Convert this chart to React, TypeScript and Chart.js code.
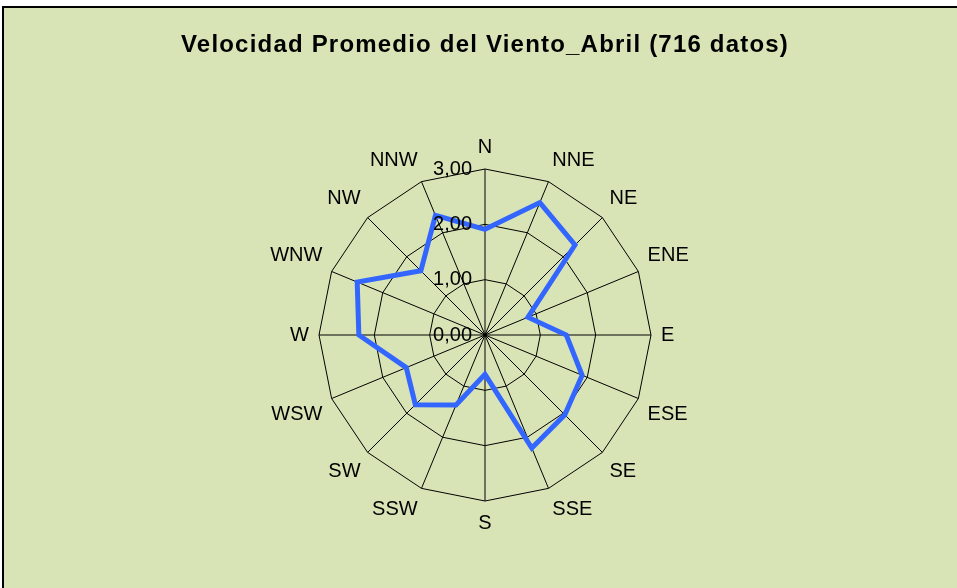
import React, { useEffect, useRef } from "react";
import { Chart, registerables } from "chart.js";

Chart.register(...registerables);

const TITLE = "Velocidad Promedio del Viento_Abril (716 datos)";
const directions = ["N", "NNE", "NE", "ENE", "E", "ESE", "SE", "SSE", "S", "SSW", "SW", "WSW", "W", "WNW", "NW", "NNW"];
const speeds = [1.91, 2.59, 2.3, 0.84, 1.47, 1.9, 2.04, 2.21, 0.71, 1.37, 1.78, 1.54, 2.28, 2.5, 1.64, 2.34];
const tickValues = [0, 1, 2, 3];
const tickLabels = ["0,00", "1,00", "2,00", "3,00"];

const BG = "#D8E4B6";
const FONT = "'Liberation Sans', Arial, sans-serif";

const tickPlugin = {
  id: "leftTicks",
  afterDatasetsDraw(chart: any) {
    const scale = chart.scales.r;
    const ctx = chart.ctx;
    ctx.save();
    ctx.font = "20px " + FONT;
    ctx.fillStyle = "#000";
    ctx.textAlign = "right";
    ctx.textBaseline = "middle";
    tickValues.forEach((v, i) => {
      const d = scale.getDistanceFromCenterForValue(v);
      ctx.fillText(tickLabels[i], scale.xCenter - 13, scale.yCenter - d);
    });
    ctx.restore();
  },
};

const titlePlugin = {
  id: "spacedTitle",
  afterDraw(chart: any) {
    const ctx = chart.ctx;
    ctx.save();
    ctx.font = "bold 24px " + FONT;
    (ctx as any).letterSpacing = "1.2px";
    ctx.fillStyle = "#000";
    ctx.textAlign = "center";
    ctx.textBaseline = "middle";
    ctx.fillText(TITLE, 481, 37);
    ctx.restore();
  },
};

export default function App() {
  const ref = useRef<HTMLCanvasElement | null>(null);
  useEffect(() => {
    document.body.style.margin = "0";
    const chart = new Chart(ref.current as HTMLCanvasElement, {
      type: "radar",
      data: {
        labels: directions,
        datasets: [
          {
            data: speeds,
            borderColor: "#3366FF",
            backgroundColor: "rgba(0,0,0,0)",
            borderWidth: 5,
            pointRadius: 0,
            fill: false,
            tension: 0,
          },
        ],
      },
      options: {
        animation: false,
        responsive: false,
        maintainAspectRatio: false,
        layout: { padding: { left: 9, right: 0, top: 127, bottom: 52 } },
        plugins: {
          legend: { display: false },
          tooltip: { enabled: false },
          title: { display: false },
        },
        scales: {
          r: {
            min: 0,
            max: 3,
            ticks: { stepSize: 1, display: false },
            grid: { color: "#000", lineWidth: 1 },
            angleLines: { color: "#000", lineWidth: 1 },
            pointLabels: {
              color: "#000",
              padding: 10,
              font: { family: FONT, size: 20 },
            },
          },
        },
      },
      plugins: [tickPlugin, titlePlugin],
    });
    return () => chart.destroy();
  }, []);
  return (
    <div style={{ position: "absolute", left: 0, top: 0, width: 957, height: 588, background: "#fff" }}>
      <div
        style={{
          position: "absolute",
          left: 2,
          top: 6,
          width: 955,
          height: 582,
          background: BG,
          borderTop: "2px solid #000",
          borderLeft: "2px solid #000",
          boxSizing: "border-box",
        }}
      >
        <canvas ref={ref} width={953} height={580} style={{ display: "block" }} />
      </div>
    </div>
  );
}
